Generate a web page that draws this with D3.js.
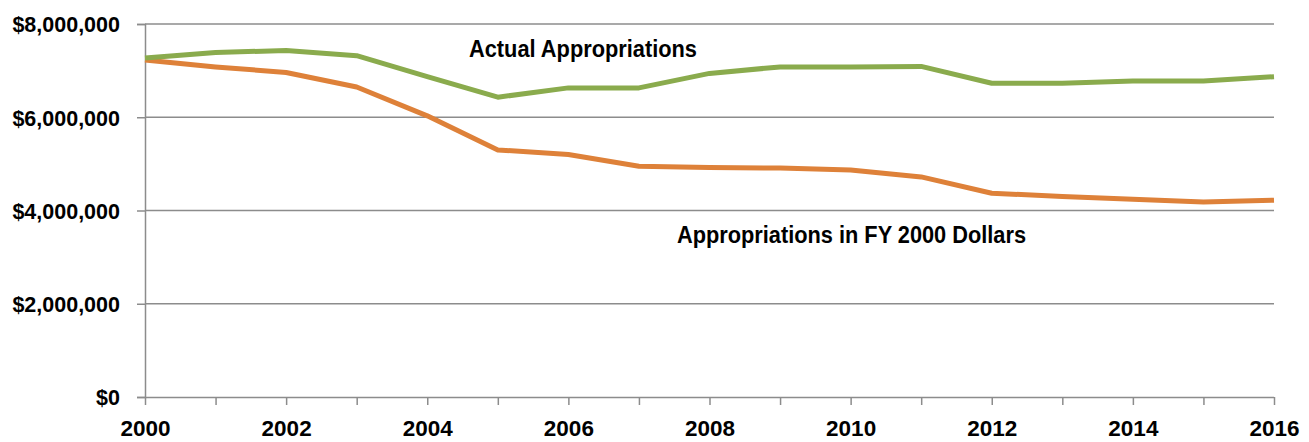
<!DOCTYPE html>
<html>
<head>
<meta charset="utf-8">
<script src="https://cdn.jsdelivr.net/npm/d3@7"></script>
<style>
  html, body { margin: 0; padding: 0; background: #fff; }
  svg { display: block; }
  text { font-family: "Liberation Sans Narrow", "Arial Narrow", "Liberation Sans", Arial, sans-serif; font-weight: bold; fill: #000; }
</style>
</head>
<body>
<svg id="chart" width="1309" height="442"></svg>
<script>
const years = [2000,2001,2002,2003,2004,2005,2006,2007,2008,2009,2010,2011,2012,2013,2014,2015,2016];
const actual = [7270000,7390000,7430000,7320000,6870000,6430000,6630000,6630000,6940000,7080000,7080000,7090000,6730000,6730000,6780000,6780000,6870000];
const realFY2000 = [7230000,7080000,6960000,6650000,6030000,5300000,5200000,4950000,4920000,4910000,4870000,4720000,4370000,4300000,4240000,4180000,4220000];
const yTicks = [0,2000000,4000000,6000000,8000000];
const xTickLabels = [2000,2002,2004,2006,2008,2010,2012,2014,2016];
const seriesLabels = ["Actual Appropriations", "Appropriations in FY 2000 Dollars"];

const svg = d3.select("#chart");
const margin = {left: 145, right: 35, top: 24, bottom: 45};
const W = 1309, H = 442;
const x = d3.scaleLinear().domain([2000, 2016]).range([margin.left, W - margin.right]);
const y = d3.scaleLinear().domain([0, 8000000]).range([H - margin.bottom, margin.top]);

const gridColor = "#8c8c8c";
const FONT = '"Liberation Sans Narrow", "Arial Narrow", "Liberation Sans", Arial, sans-serif';

// gridlines
svg.append("g").selectAll("line").data(yTicks.filter(d => d > 0)).join("line")
  .attr("x1", x(2000)).attr("x2", x(2016))
  .attr("y1", d => y(d)).attr("y2", d => y(d))
  .attr("stroke", gridColor).attr("stroke-width", 1.5);

// y axis
const yAxis = d3.axisLeft(y).tickValues(yTicks).tickSize(8).tickPadding(17)
  .tickFormat(d => "$" + d3.format(",")(d));
const gy = svg.append("g").attr("transform", `translate(${x(2000)},0)`).call(yAxis);
gy.select(".domain").attr("stroke", gridColor).attr("stroke-width", 1.5);
gy.selectAll(".tick line").attr("stroke", gridColor).attr("stroke-width", 1.5);
gy.selectAll(".tick text").attr("font-size", 21.5).attr("dy", "0.37em")
  .style("font-family", FONT).style("font-weight", "bold").attr("fill", "#000");

// x axis
const xAxis = d3.axisBottom(x).tickValues(years).tickSize(8).tickPadding(15)
  .tickFormat(d => xTickLabels.includes(d) ? String(d) : "");
const gx = svg.append("g").attr("transform", `translate(0,${y(0)})`).call(xAxis);
gx.select(".domain").attr("stroke", gridColor).attr("stroke-width", 1.5).attr("d", `M${x(2000)},0.5H${x(2016)}`);
gx.selectAll(".tick line").attr("stroke", gridColor).attr("stroke-width", 1.5);
gx.selectAll(".tick text").attr("font-size", 22.5)
  .style("font-family", FONT).style("font-weight", "bold").attr("fill", "#000");

// lines
const line = d3.line().x((d, i) => x(years[i])).y(d => y(d));
svg.append("path").datum(realFY2000).attr("d", line)
  .attr("fill", "none").attr("stroke", "#de8139").attr("stroke-width", 5).attr("stroke-linejoin", "round");
svg.append("path").datum(actual).attr("d", line)
  .attr("fill", "none").attr("stroke", "#8aab4d").attr("stroke-width", 5).attr("stroke-linejoin", "round");

// series labels
svg.append("text").attr("x", 469).attr("y", 57).attr("font-size", 23)
  .attr("textLength", 228).attr("lengthAdjust", "spacingAndGlyphs").text(seriesLabels[0]);
svg.append("text").attr("x", 677).attr("y", 242.5).attr("font-size", 23)
  .attr("textLength", 349).attr("lengthAdjust", "spacingAndGlyphs").text(seriesLabels[1]);
</script>
</body>
</html>
